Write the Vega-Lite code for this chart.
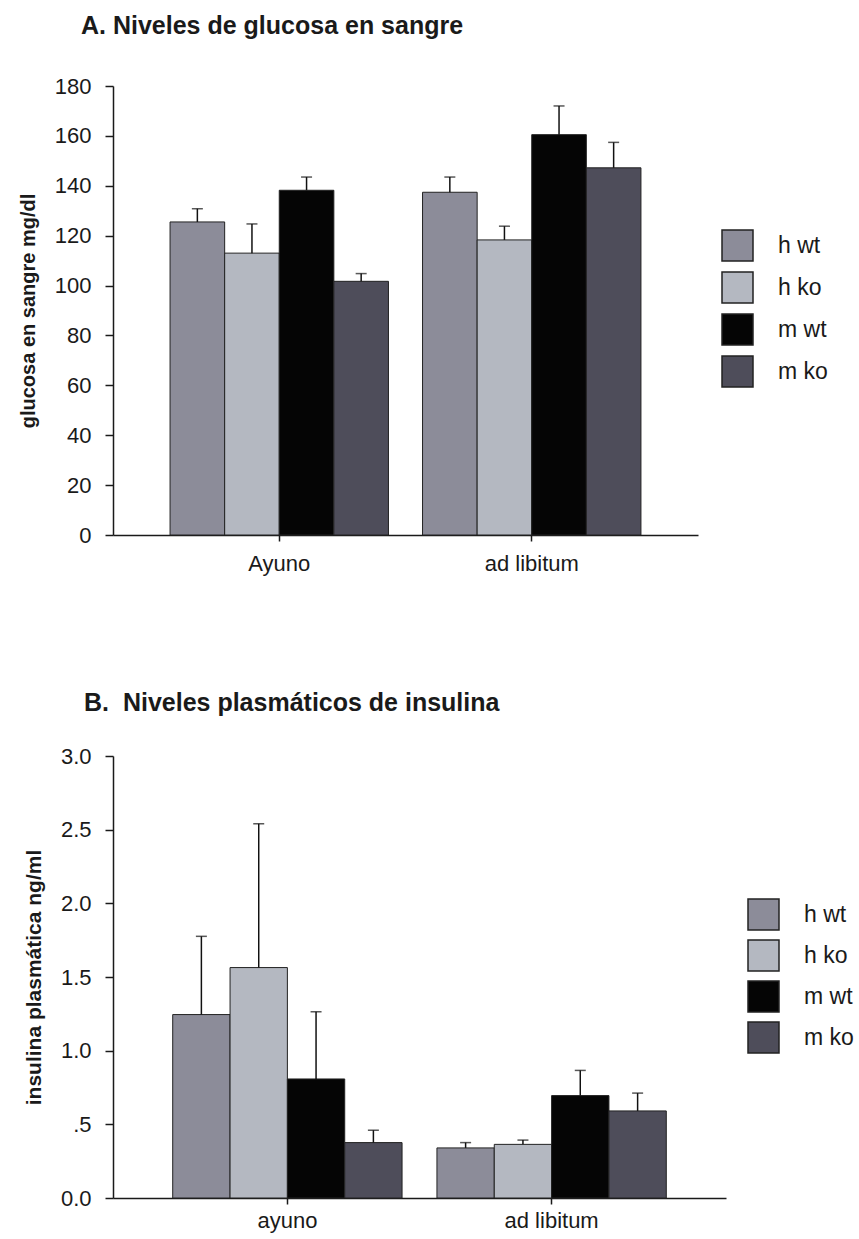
{
  "$schema": "https://vega.github.io/schema/vega-lite/v6.json",
  "background": "white",
  "padding": {"left": 18, "top": 14, "right": 5, "bottom": 2},
  "spacing": 117,
  "config": {
    "font": "Liberation Sans",
    "view": {"stroke": null},
    "axis": {
      "grid": false,
      "domainColor": "#1a1a1a",
      "tickColor": "#1a1a1a",
      "labelColor": "#1a1a1a",
      "titleColor": "#1a1a1a",
      "domainWidth": 1.5,
      "tickWidth": 1.5,
      "labelFont": "Liberation Sans",
      "titleFont": "Liberation Sans"
    },
    "legend": {"labelFont": "Liberation Sans", "labelColor": "#1a1a1a"},
    "title": {"font": "Liberation Sans", "color": "#1a1a1a"}
  },
  "datasets": {
    "glucosa": [
      {"cond": "Ayuno", "grupo": "h wt", "valor": 125.5, "sup": 130.8},
      {"cond": "Ayuno", "grupo": "h ko", "valor": 113.0, "sup": 124.7},
      {"cond": "Ayuno", "grupo": "m wt", "valor": 138.2, "sup": 143.5},
      {"cond": "Ayuno", "grupo": "m ko", "valor": 101.7, "sup": 104.8},
      {"cond": "ad libitum", "grupo": "h wt", "valor": 137.4, "sup": 143.5},
      {"cond": "ad libitum", "grupo": "h ko", "valor": 118.3, "sup": 123.8},
      {"cond": "ad libitum", "grupo": "m wt", "valor": 160.5, "sup": 172.0},
      {"cond": "ad libitum", "grupo": "m ko", "valor": 147.2, "sup": 157.4}
    ],
    "insulina": [
      {"cond": "ayuno", "grupo": "h wt", "valor": 1.245, "sup": 1.776},
      {"cond": "ayuno", "grupo": "h ko", "valor": 1.564, "sup": 2.54},
      {"cond": "ayuno", "grupo": "m wt", "valor": 0.808, "sup": 1.264},
      {"cond": "ayuno", "grupo": "m ko", "valor": 0.376, "sup": 0.46},
      {"cond": "ad libitum", "grupo": "h wt", "valor": 0.34, "sup": 0.376},
      {"cond": "ad libitum", "grupo": "h ko", "valor": 0.364, "sup": 0.393},
      {"cond": "ad libitum", "grupo": "m wt", "valor": 0.695, "sup": 0.866},
      {"cond": "ad libitum", "grupo": "m ko", "valor": 0.591, "sup": 0.712}
    ]
  },
  "vconcat": [
    {
      "width": 585,
      "height": 449,
      "title": {"text": "A. Niveles de glucosa en sangre", "anchor": "start", "frame": "group", "fontSize": 25, "fontWeight": "bold", "dx": -32, "offset": 36},
      "data": {"name": "glucosa"},
      "encoding": {
        "x": {"field": "cond", "type": "nominal", "sort": ["Ayuno", "ad libitum"],
          "scale": {"paddingInner": 0.135, "paddingOuter": 0.226},
          "axis": {"title": null, "labelAngle": 0, "labelFontSize": 22, "tickSize": 6, "labelPadding": 12}},
        "xOffset": {"field": "grupo", "type": "nominal", "sort": ["h wt", "h ko", "m wt", "m ko"],
          "scale": {"paddingInner": 0, "paddingOuter": 0}}
      },
      "layer": [
        {
          "mark": {"type": "bar", "stroke": "#222222", "strokeWidth": 1},
          "encoding": {
            "y": {"field": "valor", "type": "quantitative", "scale": {"domain": [0, 180]},
              "axis": {"title": "glucosa en sangre mg/dl", "titleFontSize": 20, "titleFontWeight": "bold", "titlePadding": 16,
                "values": [0, 20, 40, 60, 80, 100, 120, 140, 160, 180], "labelFontSize": 22, "tickSize": 8, "labelPadding": 14}},
            "color": {"field": "grupo", "type": "nominal",
              "scale": {"domain": ["h wt", "h ko", "m wt", "m ko"], "range": ["#8c8c99", "#b4b8c1", "#050505", "#4e4d5a"]},
              "legend": {"orient": "none", "legendX": 608, "legendY": 143, "title": null, "symbolType": "square",
                "symbolSize": 961, "symbolStrokeColor": "#222222", "symbolStrokeWidth": 1.5, "symbolOpacity": 1,
                "labelFontSize": 23, "labelOffset": 24, "rowPadding": 5}}
          }
        },
        {
          "mark": {"type": "rule", "color": "#111111", "strokeWidth": 1.5},
          "encoding": {"y": {"field": "valor", "type": "quantitative"}, "y2": {"field": "sup"}}
        },
        {
          "mark": {"type": "tick", "orient": "horizontal", "size": 11, "thickness": 1.5, "color": "#111111"},
          "encoding": {"y": {"field": "sup", "type": "quantitative"}}
        }
      ]
    },
    {
      "width": 613,
      "height": 442,
      "title": {"text": "B.\u00a0 Niveles plasmáticos de insulina", "anchor": "start", "frame": "group", "fontSize": 25, "fontWeight": "bold", "dx": -29, "offset": 29},
      "data": {"name": "insulina"},
      "encoding": {
        "x": {"field": "cond", "type": "nominal", "sort": ["ayuno", "ad libitum"],
          "scale": {"paddingInner": 0.132, "paddingOuter": 0.226},
          "axis": {"title": null, "labelAngle": 0, "labelFontSize": 22, "tickSize": 6, "labelPadding": 6}},
        "xOffset": {"field": "grupo", "type": "nominal", "sort": ["h wt", "h ko", "m wt", "m ko"],
          "scale": {"paddingInner": 0, "paddingOuter": 0}}
      },
      "layer": [
        {
          "mark": {"type": "bar", "stroke": "#222222", "strokeWidth": 1},
          "encoding": {
            "y": {"field": "valor", "type": "quantitative", "scale": {"domain": [0, 3]},
              "axis": {"title": "insulina plasmática ng/ml", "titleFontSize": 21, "titleFontWeight": "bold", "titlePadding": 16,
                "values": [0, 0.25, 0.5, 0.75, 1, 1.25, 1.5, 1.75, 2, 2.25, 2.5, 2.75, 3],
                "labelExpr": "datum.value == 0.5 ? '.5' : ((datum.value * 2) % 1 == 0 ? format(datum.value, '.1f') : '')",
                "labelFontSize": 22, "tickSize": 8, "labelPadding": 14}},
            "color": {"field": "grupo", "type": "nominal",
              "scale": {"domain": ["h wt", "h ko", "m wt", "m ko"], "range": ["#8c8c99", "#b4b8c1", "#050505", "#4e4d5a"]},
              "legend": {"orient": "none", "legendX": 634, "legendY": 142, "title": null, "symbolType": "square",
                "symbolSize": 961, "symbolStrokeColor": "#222222", "symbolStrokeWidth": 1.5, "symbolOpacity": 1,
                "labelFontSize": 23, "labelOffset": 24, "rowPadding": 4}}
          }
        },
        {
          "mark": {"type": "rule", "color": "#111111", "strokeWidth": 1.5},
          "encoding": {"y": {"field": "valor", "type": "quantitative"}, "y2": {"field": "sup"}}
        },
        {
          "mark": {"type": "tick", "orient": "horizontal", "size": 11, "thickness": 1.5, "color": "#111111"},
          "encoding": {"y": {"field": "sup", "type": "quantitative"}}
        }
      ]
    }
  ],
  "resolve": {
    "scale": {"color": "independent", "x": "independent", "y": "independent", "xOffset": "independent"},
    "legend": {"color": "independent"}
  }
}
